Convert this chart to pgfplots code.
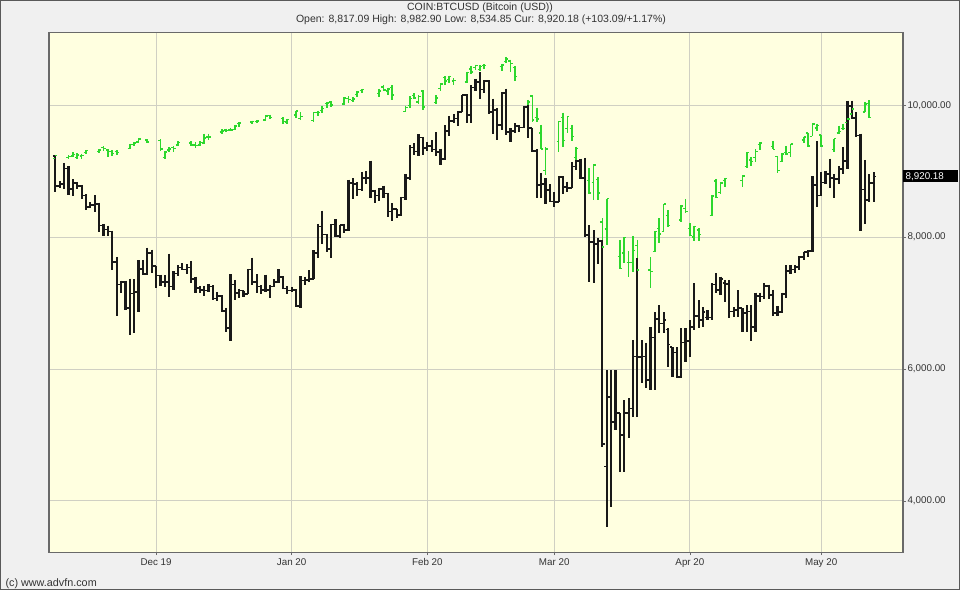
\documentclass[border=0pt]{standalone}
\usepackage{fontspec}
\setmainfont{Liberation Sans}
\usepackage{pgfplots}
\usepackage{pgfplotstable}
\pgfplotsset{compat=1.18}
\definecolor{outerbg}{RGB}{240,240,240}
\definecolor{plotbg}{RGB}{255,255,224}
\definecolor{gridc}{RGB}{208,208,195}
\definecolor{framec}{RGB}{105,105,105}
\definecolor{barblack}{RGB}{25,25,25}
\definecolor{bargreen}{RGB}{45,215,45}
\pgfdeclareplotmark{otick}{\pgfpathmoveto{\pgfqpoint{-\pgfplotmarksize}{0pt}}\pgfpathlineto{\pgfqpoint{0pt}{0pt}}\pgfusepathqstroke}
\pgfdeclareplotmark{ctick}{\pgfpathmoveto{\pgfqpoint{0pt}{0pt}}\pgfpathlineto{\pgfqpoint{\pgfplotmarksize}{0pt}}\pgfusepathqstroke}

% Bitcoin daily OHLC, day 0 = 1 Dec 2019
\pgfplotstableread{
d o h l c
-23 9235 9240 8680 8773
-22 8773 8850 8740 8810
-21 8810 9125 8733 9039
-20 9039 9075 8640 8733
-19 8733 8880 8629 8821
-18 8821 8837 8730 8778
-17 8778 8792 8577 8631
-16 8631 8650 8415 8459
-15 8459 8530 8435 8491
-14 8491 8633 8380 8502
-13 8502 8522 8072 8178
-12 8178 8200 8017 8117
-11 8117 8176 8017 8087
-10 8087 8100 7500 7620
-9 7620 7700 6800 7280
-8 7280 7340 7150 7320
-7 7320 7340 6900 6930
-6 6930 7370 6520 7145
-5 7145 7360 6540 7170
-4 7170 7650 6860 7520
-3 7520 7650 7420 7440
-2 7440 7840 7430 7760
-1 7760 7810 7450 7560
0 7560 7560 7230 7420
1 7420 7430 7260 7320
2 7320 7420 7250 7320
3 7320 7750 7090 7250
4 7250 7480 7200 7450
5 7450 7570 7410 7540
6 7540 7600 7500 7510
7 7510 7590 7440 7540
8 7540 7640 7300 7360
9 7360 7400 7160 7230
10 7230 7260 7150 7200
11 7200 7260 7110 7190
12 7190 7290 7170 7250
13 7250 7270 7040 7070
14 7070 7170 7030 7110
15 7110 7120 6860 6880
16 6880 6930 6560 6620
17 6620 7440 6430 7280
18 7280 7350 7040 7150
19 7150 7220 7080 7190
20 7190 7190 7090 7140
21 7140 7520 7130 7510
22 7510 7690 7270 7320
23 7320 7440 7160 7250
24 7250 7270 7130 7200
25 7200 7430 7170 7200
26 7200 7280 7080 7250
27 7250 7360 7240 7320
28 7320 7510 7300 7390
29 7390 7410 7210 7220
30 7220 7260 7130 7190
31 7190 7250 7170 7200
32 7200 7210 6940 6960
33 6960 7410 6920 7340
34 7340 7400 7270 7350
35 7350 7500 7320 7360
36 7360 7800 7360 7760
37 7760 8200 7680 8160
38 8160 8400 7900 8040
39 8040 8050 7770 7820
40 7820 8200 7680 8190
41 8190 8270 8000 8020
42 8020 8190 7990 8180
43 8180 8200 8060 8110
44 8110 8870 8100 8820
45 8820 8890 8580 8810
46 8810 8830 8620 8720
47 8720 8990 8700 8900
48 8900 9000 8800 8900
49 8900 9160 8600 8700
50 8700 8720 8510 8630
51 8630 8750 8550 8730
52 8730 8780 8590 8660
53 8660 8670 8300 8390
54 8390 8510 8240 8430
55 8430 8430 8290 8340
56 8340 8610 8320 8600
57 8600 8960 8570 8900
58 8900 9390 8870 9360
59 9360 9420 9250 9300
60 9300 9560 9230 9510
61 9510 9520 9250 9350
62 9350 9440 9310 9380
63 9380 9470 9290 9330
64 9330 9590 9230 9290
65 9290 9340 9100 9180
66 9180 9700 9170 9610
67 9610 9840 9540 9760
68 9760 9870 9730 9800
69 9800 9910 9690 9900
70 9900 10160 9890 10160
71 10160 10170 9730 9850
72 9850 10300 9730 10270
73 10270 10400 10210 10350
74 10350 10500 10090 10240
75 10240 10380 10180 10370
76 10370 10380 9860 9900
77 9900 10100 9570 9930
78 9930 9960 9480 9700
79 9700 10200 9620 10180
80 10180 10250 9550 9590
81 9590 9650 9440 9610
82 9610 9730 9580 9690
83 9690 9700 9600 9660
84 9660 9990 9660 9970
85 9970 10000 9500 9650
86 9650 9650 9290 9310
87 9310 9330 8600 8790
88 8790 8970 8590 8810
89 8810 8890 8500 8710
90 8710 8800 8540 8540
91 8540 8680 8460 8530
92 8530 8930 8530 8910
93 8910 8920 8660 8760
94 8760 8840 8690 8750
95 8750 9140 8750 9070
96 9070 9170 9020 9150
97 9150 9190 8880 8900
98 8900 9200 8000 8030
99 8030 8180 7320 7930
100 7930 8105 7300 7900
101 7900 7980 7590 7940
102 7940 7960 4820 4860
103 4520 5980 3606 5580
104 5577 5980 3905 5200
105 5200 5980 5076 5324
106 5330 5330 4435 5000
107 5000 5527 4435 5330
108 5330 5557 4950 5400
109 5400 6437 5270 6190
110 6190 7680 5270 6180
111 6180 6437 5785 6190
112 6190 6400 5710 5830
113 5830 6640 5680 6480
114 6480 6860 5680 6760
115 6760 6970 6545 6690
116 6690 6860 6545 6740
117 6600 6620 6030 6370
118 6330 6330 5880 6250
119 6250 6330 5860 5880
120 5880 6620 5860 6400
121 6400 6620 6100 6420
122 6420 6740 6180 6640
123 6640 7300 6590 6800
124 6800 7043 6620 6740
125 6740 6940 6640 6860
126 6780 6890 6740 6780
127 6780 7300 6740 7280
128 7280 7450 7150 7200
129 7200 7400 7120 7370
130 7300 7350 7010 7290
131 7290 7350 6770 6870
132 6870 6940 6790 6890
133 6890 7195 6785 6920
134 6920 6920 6560 6850
135 6850 6970 6560 6870
136 6870 6970 6420 6640
137 6640 7160 6560 7110
138 7110 7160 7010 7100
139 7100 7300 7060 7260
140 7260 7280 7060 7120
141 7120 7200 6800 6850
142 6850 6950 6810 6860
143 6860 7160 6850 7140
144 7140 7570 7070 7490
145 7490 7580 7440 7510
146 7510 7580 7450 7550
147 7550 7710 7500 7700
148 7700 7780 7650 7770
149 7770 7800 7700 7790
150 7790 8920 7780 8790
151 8790 9450 8450 8630
152 8630 8990 8630 8830
153 8830 9010 8800 8960
154 8960 9190 8750 8900
155 8900 8950 8600 8880
156 8880 9080 8800 9030
157 9030 9370 8950 9150
158 9150 10070 9040 9990
159 9990 10070 9790 9810
160 9810 9890 9520 9540
161 9540 9570 8100 8720
162 8720 9170 8200 8560
163 8560 8950 8540 8820
164 8817 8983 8535 8920
}\btc

% comparison index (green), daily OHLC on trading days
\pgfplotstableread{
d o h l c
-23 8430 8485 8395 8475
-20 8445 8480 8425 8464
-19 8470 8520 8450 8486
-18 8450 8505 8430 8482
-17 8470 8500 8430 8479
-16 8520 8550 8500 8541
-13 8530 8565 8510 8550
-12 8590 8605 8540 8571
-11 8550 8560 8460 8527
-10 8530 8545 8470 8506
-9 8530 8545 8480 8520
-6 8575 8640 8565 8632
-5 8630 8660 8610 8648
-4 8660 8715 8645 8705
-2 8690 8700 8650 8665
1 8680 8700 8540 8568
2 8450 8535 8420 8521
3 8550 8590 8525 8567
4 8590 8610 8530 8571
5 8620 8670 8605 8657
8 8650 8670 8610 8622
9 8620 8660 8580 8616
10 8620 8670 8605 8654
11 8650 8780 8630 8717
12 8730 8780 8690 8735
15 8800 8840 8780 8814
16 8830 8850 8800 8823
17 8830 8860 8810 8828
18 8840 8900 8830 8887
19 8920 8940 8870 8925
22 8940 8960 8920 8946
23 8950 8965 8930 8953
25 8970 9035 8960 9022
26 9030 9045 8980 9007
29 8990 9005 8910 8946
30 8940 8985 8910 8973
32 9040 9100 9000 9092
33 8990 9080 8975 9021
36 8960 9080 8940 9071
37 9070 9100 9030 9069
38 9100 9170 9060 9129
39 9200 9220 9140 9203
40 9220 9230 9150 9179
43 9190 9285 9180 9274
44 9270 9300 9210 9251
45 9240 9290 9220 9259
46 9320 9370 9290 9357
47 9380 9400 9340 9389
51 9340 9400 9290 9371
52 9430 9460 9370 9384
53 9370 9420 9320 9402
54 9420 9450 9240 9315
57 9090 9170 9080 9139
58 9170 9300 9130 9270
59 9310 9340 9260 9275
60 9220 9310 9190 9299
61 9370 9380 9110 9151
64 9210 9310 9190 9273
65 9410 9480 9370 9468
66 9560 9580 9450 9509
67 9530 9585 9490 9572
68 9510 9550 9460 9521
71 9500 9640 9490 9628
72 9680 9720 9610 9639
73 9700 9740 9670 9726
74 9670 9730 9650 9712
75 9730 9745 9680 9731
79 9710 9750 9650 9733
80 9780 9848 9760 9817
81 9790 9810 9630 9751
82 9700 9720 9510 9577
85 9150 9250 9080 9221
86 9300 9310 8940 8966
87 9000 9140 8940 8981
88 8790 8900 8560 8566
89 8270 8590 8210 8567
92 8670 8953 8520 8952
93 9000 9070 8600 8684
94 8850 9020 8790 9018
95 8850 8900 8680 8739
96 8450 8600 8300 8576
99 8130 8300 7940 7951
100 8100 8350 7850 8344
101 8140 8170 7850 7952
102 7550 7600 7190 7202
103 7450 7875 7230 7875
106 7070 7300 6890 6905
107 7120 7340 6980 7335
108 6990 7140 6780 6990
109 6990 7350 6860 7151
110 7220 7300 6880 6880
113 6880 7060 6631 6861
114 7140 7420 7130 7418
115 7460 7600 7260 7384
116 7420 7800 7420 7798
117 7640 7710 7480 7502
120 7580 7780 7550 7774
121 7740 7870 7680 7700
122 7460 7530 7350 7361
123 7340 7500 7290 7487
124 7440 7460 7290 7373
127 7640 7920 7630 7913
128 8120 8150 7880 7887
129 7960 8100 7940 8091
130 8130 8160 8040 8154
134 8130 8200 8030 8192
135 8320 8520 8300 8516
136 8410 8450 8330 8393
137 8450 8560 8390 8532
138 8630 8660 8550 8650
141 8600 8680 8560 8561
142 8460 8470 8230 8263
143 8390 8510 8380 8495
144 8520 8610 8480 8495
145 8520 8640 8460 8635
148 8690 8730 8650 8730
149 8790 8790 8600 8608
150 8740 8920 8740 8915
151 8860 8920 8820 8890
152 8760 8760 8590 8605
155 8560 8710 8530 8711
156 8790 8890 8780 8809
157 8850 8920 8830 8854
158 8930 9000 8920 8980
159 9050 9130 9050 9121
162 9080 9220 9080 9192
163 9200 9240 9000 9003
}\ndq

\begin{document}
\begin{tikzpicture}
\fill[outerbg] (0,0) rectangle (960pt,590pt);
\begin{axis}[
  at={(49pt,38pt)}, anchor=south west, scale only axis,
  width=854pt, height=520pt,
  xmin=-24.46, xmax=170.7, ymin=3222, ymax=11107,
  scaled y ticks=false, scaled x ticks=false,
  axis background/.style={fill=plotbg},
  axis line style={framec, line width=1.3pt},
  xtick={0,31,62,91,122,152},
  xticklabels={Dec 19,Jan 20,Feb 20,Mar 20,Apr 20,May 20},
  ytick={4000,6000,8000,10000},
  yticklabels={{4,000.00},{6,000.00},{8,000.00},{10,000.00}},
  xtick pos=bottom, ytick pos=right, yticklabel pos=right,
  tick align=outside, major tick length=3pt,
  tick style={framec, line width=0.8pt},
  grid=major, major grid style={gridc, line width=0.9pt},
  ticklabel style={font=\fontsize{9.8}{11}\selectfont, text=black!80},
  yticklabel style={anchor=west, xshift=-2pt},
  clip=false,
]
% green series
\addplot[draw=none, mark=none, forget plot,
  error bars/.cd, y dir=minus, y explicit, error mark=none,
  error bar style={draw=bargreen, line width=1.7pt}]
  table[x=d, y expr=\thisrow{h}*1.09, y error minus expr=(\thisrow{h}-\thisrow{l})*1.09] {\ndq};
\addplot[only marks, mark=otick, mark size=2.1pt, mark options={draw=bargreen, line width=1.4pt}, forget plot]
  table[x=d, y expr=\thisrow{o}*1.09] {\ndq};
\addplot[only marks, mark=ctick, mark size=2.1pt, mark options={draw=bargreen, line width=1.4pt}, forget plot]
  table[x=d, y expr=\thisrow{c}*1.09] {\ndq};
% bitcoin
\addplot[draw=none, mark=none, forget plot,
  error bars/.cd, y dir=minus, y explicit, error mark=none,
  error bar style={draw=barblack, line width=2.2pt}]
  table[x=d, y=h, y error minus expr=\thisrow{h}-\thisrow{l}] {\btc};
\addplot[only marks, mark=otick, mark size=2.4pt, mark options={draw=barblack, line width=1.7pt}, forget plot]
  table[x=d, y=o] {\btc};
\addplot[only marks, mark=ctick, mark size=2.4pt, mark options={draw=barblack, line width=1.7pt}, forget plot]
  table[x=d, y=c] {\btc};
\node[fill=black, text=white, anchor=west, inner xsep=2.5pt, inner ysep=2pt,
  text width=50pt, align=left, font=\fontsize{9.8}{11}\selectfont]
  at (axis cs:170.7,8920.18) {8,920.18};
\end{axis}
\node[font=\fontsize{10.5}{12}\selectfont, text=black!80] at (480pt,582pt) {COIN:BTCUSD (Bitcoin (USD))};
\node[font=\fontsize{10.5}{12}\selectfont, text=black!80] at (481pt,570pt) {Open: 8,817.09 High: 8,982.90 Low: 8,534.85 Cur: 8,920.18 (+103.09/+1.17\%)};
\node[font=\fontsize{10.8}{12}\selectfont, text=black!80, anchor=west] at (2pt,7pt) {(c) www.advfn.com};
\draw[black!65, line width=1pt] (0.5pt,0.5pt) rectangle (959.5pt,589.5pt);
\end{tikzpicture}
\end{document}
